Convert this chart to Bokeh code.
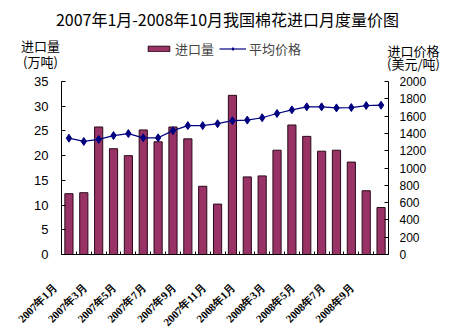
from math import pi
from bokeh.plotting import figure
from bokeh.layouts import column
from bokeh.models import (Range1d, LinearAxis, FixedTicker, Label, Legend, LegendItem,
                          ColumnDataSource, LabelSet)
from bokeh.embed import file_html
from bokeh.resources import INLINE

months = ["2007年1月", "2007年2月", "2007年3月", "2007年4月", "2007年5月", "2007年6月",
          "2007年7月", "2007年8月", "2007年9月", "2007年10月", "2007年11月", "2007年12月",
          "2008年1月", "2008年2月", "2008年3月", "2008年4月", "2008年5月", "2008年6月",
          "2008年7月", "2008年8月", "2008年9月", "2008年10月"]
volume = [12.3, 12.5, 25.8, 21.4, 20.0, 25.2, 22.8, 25.8, 23.4, 13.8, 10.2, 32.2,
          15.7, 15.9, 21.1, 26.2, 23.9, 20.9, 21.1, 18.7, 12.9, 9.5]
price = [1345, 1307, 1330, 1375, 1398, 1349, 1349, 1432, 1490, 1490, 1512, 1547,
         1554, 1581, 1630, 1672, 1707, 1707, 1695, 1699, 1722, 1726]
vol_ticks = [0, 5, 10, 15, 20, 25, 30, 35]
price_ticks = [0, 200, 400, 600, 800, 1000, 1200, 1400, 1600, 1800, 2000]
title = "2007年1月-2008年10月我国棉花进口月度量价图"

CJK = "Noto Sans CJK SC"
NUM = "Liberation Sans"
BAR = "#993366"
BAR_EDGE = "#2a0a1a"
LINE = "#000080"
W = 452
TOPH, MAINH, BOTH = 74, 188, 71
FL, FR = 61, 388          # frame left / right (canvas px)
FTOP, FBOT = 81, 254      # frame top / bottom (canvas px)

xs = list(range(1, len(months) + 1))
src = ColumnDataSource(dict(x=xs, v=volume, p=price))

def bare(height):
    f = figure(width=W, height=height, output_backend="svg", toolbar_location=None,
               x_axis_type=None, y_axis_type=None, min_border=0)
    f.grid.visible = False
    f.outline_line_color = None
    f.frame_align = False
    return f

# ---------- top strip: title, axis titles, legend ----------
top = bare(TOPH)
top.x_range = Range1d(0, W)
top.y_range = Range1d(TOPH, 0)

def lab(text, x, y, size="13px"):
    top.add_layout(Label(x=x, y=y, text=text, text_font=CJK, text_font_size=size,
                         text_align="center", text_baseline="middle", text_color="black"))

lab(title, 227, 18, size="16px")
lab("进口量", 40, 45)
lab("(万吨)", 40, 61)
lab("进口价格", 413, 50)
lab("(美元/吨)", 413, 63)

top.extra_y_ranges = {"off": Range1d(1e6, 2e6)}
lg_bar = top.vbar(x="x", top="v", width=0.5, source=src, y_range_name="off",
                  fill_color=BAR, line_color=BAR_EDGE)
lg_line = top.line(x="x", y="p", source=src, y_range_name="off", line_color=LINE, line_width=1.2)
lg_mk = top.scatter(x="x", y="p", source=src, y_range_name="off", marker="diamond", size=8,
                    fill_color=LINE, line_color=LINE)
legend = Legend(items=[LegendItem(label="进口量", renderers=[lg_bar]),
                       LegendItem(label="平均价格", renderers=[lg_line, lg_mk])],
                orientation="horizontal", location=(145, TOPH - 58),
                label_text_font=CJK, label_text_font_size="13px",
                border_line_color=None, background_fill_alpha=0,
                glyph_width=27, glyph_height=7, label_height=14,
                spacing=5, padding=0, margin=0, label_standoff=3)
top.add_layout(legend, "center")

# ---------- main chart ----------
p = figure(width=W, height=MAINH, output_backend="svg", toolbar_location=None,
           x_range=Range1d(0.5, len(months) + 0.5), y_range=Range1d(0, vol_ticks[-1]),
           min_border_left=FL, min_border_right=W - FR, min_border_top=FTOP - TOPH,
           min_border_bottom=TOPH + MAINH - FBOT)
p.frame_align = False
p.extra_y_ranges = {"price": Range1d(0, price_ticks[-1])}
p.grid.visible = False
p.outline_line_color = None

p.vbar(x="x", top="v", width=0.55, source=src, fill_color=BAR, line_color=BAR_EDGE, line_width=1)
p.line(x="x", y="p", source=src, y_range_name="price", line_color=LINE, line_width=1.2)
p.scatter(x="x", y="p", source=src, y_range_name="price", marker="diamond", size=8,
          fill_color=LINE, line_color=LINE)

xa = p.xaxis[0]
xa.ticker = FixedTicker(ticks=[], minor_ticks=[i + 0.5 for i in range(0, len(months) + 1)])
xa.major_label_text_font_size = "0px"
xa.major_label_standoff = 0
xa.major_tick_in = 0
xa.major_tick_out = 0
xa.minor_tick_in = 3
xa.minor_tick_out = 0
xa.axis_line_color = "black"

ya = p.yaxis[0]
ya.ticker = FixedTicker(ticks=vol_ticks)
ya.major_tick_in = 4
ya.major_tick_out = 0
ya.minor_tick_line_color = None
ya.major_label_text_font = NUM
ya.major_label_text_font_size = "13px"
ya.major_label_text_color = "black"
ya.major_label_standoff = 13
ya.axis_line_color = "black"

ra = LinearAxis(y_range_name="price", ticker=FixedTicker(ticks=price_ticks))
ra.major_tick_in = 4
ra.major_tick_out = 0
ra.minor_tick_line_color = None
ra.major_label_text_font = NUM
ra.major_label_text_font_size = "12px"
ra.major_label_text_color = "black"
ra.major_label_standoff = 11
ra.axis_line_color = "black"
p.add_layout(ra, "right")

# ---------- bottom strip: rotated month labels on the same x scale ----------
k = (FR - FL) / len(months)
bot = bare(BOTH)
bot.x_range = Range1d(0.5 - FL / k, 0.5 + (W - FL) / k)
bot.y_range = Range1d(0, BOTH)
lab_x = xs[::2]
lab_src = ColumnDataSource(dict(x=lab_x, t=[months[i - 1] for i in lab_x]))
anchor_y = 285 - (TOPH + MAINH)   # canvas y of label ends, measured inside the bottom strip
bot.add_layout(LabelSet(x="x", y=BOTH - anchor_y, text="t", source=lab_src, y_units="screen",
                        angle=pi / 4, text_align="right", text_baseline="middle",
                        x_offset=-14, text_font=CJK, text_font_size="11px",
                        text_font_style="bold", text_color="black"))

layout = column(top, p, bot, spacing=0)
open("out.html", "w").write(file_html(layout, INLINE))
